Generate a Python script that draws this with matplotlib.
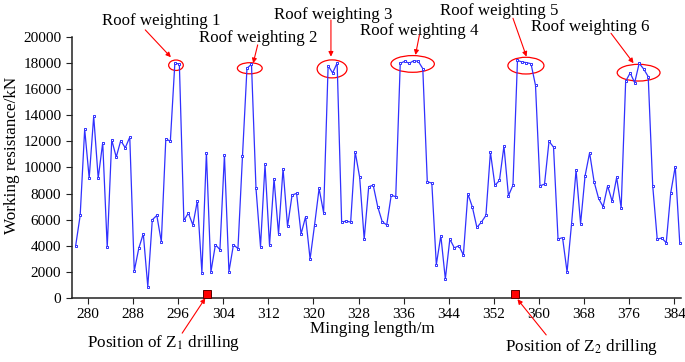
import numpy as np
import matplotlib
matplotlib.use("Agg")
import matplotlib.pyplot as plt
from matplotlib.patches import Ellipse

plt.rcParams['font.family'] = ['Liberation Serif', 'DejaVu Serif']
plt.rcParams['mathtext.fontset'] = 'stix'

# distancia de avance (m), un punto cada 0.8 m
x_start = 277.8
x_step = 0.8

# resistencia de trabajo (kN)
resistance = [4000, 6320, 12930, 9180, 13920, 9180, 11900, 3880, 12110, 10790,
              12060, 11500, 12320, 2070, 3800, 4920, 870, 5990, 6320, 4310,
              12210, 11990, 17980, 17930, 5940, 6500, 5590, 7450, 1940, 11120,
              1990, 4080, 3700, 10940, 2020, 4080, 3780, 10840, 17600, 17900,
              8390, 3930, 10230, 4030, 9130, 4900, 9900, 5480, 7880, 8010,
              4900, 6220, 2980, 5610, 8390, 6530, 17800, 17240, 18000, 5810,
              5890, 5810, 11200, 9230, 4510, 8520, 8640, 6990, 5840, 5590,
              7880, 7750, 17980, 18130, 17980, 18180, 18130, 17570, 8900, 8800,
              2550, 4770, 1450, 4510, 3830, 4000, 3290, 7980, 6960, 5400,
              5810, 6320, 11170, 8620, 9000, 11630, 7830, 8640, 18200, 18080,
              18030, 17950, 16290, 8590, 8720, 12010, 11550, 4510, 4620, 1990,
              5690, 9790, 5690, 9360, 11120, 8900, 7620, 6990, 8590, 7400,
              9230, 6890, 16600, 17240, 16500, 17980, 17540, 16960, 8590, 4510,
              4590, 4230, 8060, 10070, 4200]
mining = x_start + x_step * np.arange(len(resistance))

# posiciones de los sondeos Z1 y Z2
drill_x = [301.1, 355.7]
drill_labels = ['Position of Z$_1$ drilling', 'Position of Z$_2$ drilling']

xticks = list(range(280, 385, 8))
yticks = list(range(0, 20001, 2000))

fig = plt.figure(figsize=(6.85, 3.62), dpi=100)
ax = fig.add_axes([0.1047, 0.177, 0.8893, 0.721])

ax.plot(mining, resistance, color='#3030ff', lw=0.9, marker='s', ms=1.9,
        mfc='white', mec='#3030ff', mew=0.7)

ax.set_xlim(277.1, 385.2)
ax.set_ylim(0, 20000)
ax.set_xticks(xticks)
ax.set_yticks(yticks)
ax.tick_params(direction='out', length=4, width=0.8, labelsize=11, color='#222222')
ax.spines['top'].set_visible(False)
ax.spines['right'].set_visible(False)
for s in ['left', 'bottom']:
    ax.spines[s].set_linewidth(1.1)
    ax.spines[s].set_color('#222222')

ax.text(0.493, -0.119, 'Minging length/m', transform=ax.transAxes,
        ha='center', va='center', fontsize=12.3)
ax.text(-0.098, 0.548, 'Working resistance/kN', transform=ax.transAxes,
        ha='center', va='center', rotation=90, fontsize=12.3)

# sondeos (cuadros rojos sobre el eje)
ax.plot(drill_x, [300, 300], ls='none', marker='s', ms=5.4, mfc='#ff0000',
        mec='#5a0000', mew=0.7, clip_on=False, zorder=5)

arrow = dict(arrowstyle='-|>', color='red', lw=0.8, mutation_scale=7,
             shrinkA=0, shrinkB=0)

# Z1, Z2
ax.text(293.3, -3450, drill_labels[0], ha='center', va='center', fontsize=12.3)
ax.annotate('', xy=(300.8, -20), xytext=(296.7, -2700), arrowprops=arrow,
            annotation_clip=False)
ax.text(367.6, -3780, drill_labels[1], ha='center', va='center', fontsize=12.3)
ax.annotate('', xy=(356.2, -100), xytext=(361.3, -2835), arrowprops=arrow,
            annotation_clip=False)

# zonas de presion del techo
ellipses = [(295.6, 17830, 2.6, 800), (308.7, 17600, 4.4, 850),
            (323.3, 17550, 5.3, 1380), (337.6, 17930, 7.7, 1280),
            (357.7, 17800, 6.4, 1280), (377.7, 17260, 7.6, 1280)]
labels = [(293.0, 21226), (310.2, 19900), (323.5, 21690),
          (338.8, 20460), (353.0, 21990), (369.2, 20770)]
arrows = [((290.15, 20540), (294.7, 18445)), ((310.1, 19390), (309.3, 17985)),
          ((323.1, 21300), (323.1, 18490)), ((338.8, 20150), (338.1, 18620)),
          ((355.4, 21430), (357.8, 18490)), ((372.8, 20280), (376.8, 17985))]

for i in range(6):
    cx, cy, w, h = ellipses[i]
    ax.add_patch(Ellipse((cx, cy), w, h, fill=False, ec='red', lw=0.9,
                         clip_on=False))
    ax.text(labels[i][0], labels[i][1], 'Roof weighting %d' % (i + 1),
            ha='center', va='center', fontsize=12.2, clip_on=False)
    ax.annotate('', xy=arrows[i][1], xytext=arrows[i][0], arrowprops=arrow,
                annotation_clip=False)

fig.savefig('out.png', dpi=100)
